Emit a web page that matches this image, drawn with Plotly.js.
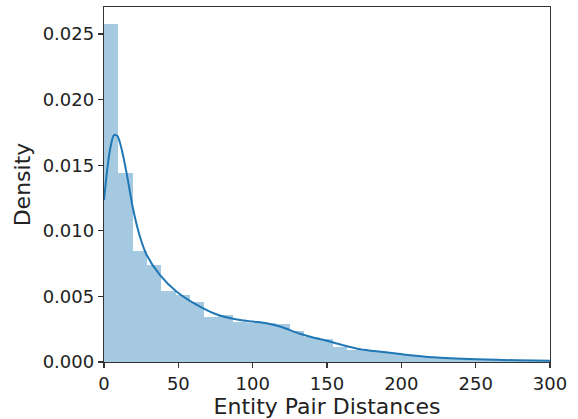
<!DOCTYPE html>
<html>
<head>
<meta charset="utf-8">
<script src="https://cdn.plot.ly/plotly-3.0.1.min.js"></script>
<style>html,body{margin:0;padding:0;background:#fff;}#chart{width:578px;height:419px;}</style>
</head>
<body>
<div id="chart"></div>
<script>
// Histogram bins (left edges) and densities
const binWidth = 9.62;
const binLeft = [0, 9.62, 19.24, 28.86, 38.48, 48.1, 57.72, 67.34, 76.96, 86.58, 96.2, 105.82, 115.44, 125.06, 134.68, 144.3, 153.92, 163.54, 173.16, 182.78, 192.4, 202.02, 211.64, 221.26, 230.88, 240.5, 250.12, 259.74, 269.36, 278.98, 288.6, 298.22];
const density = [0.02576, 0.01441, 0.00848, 0.00739, 0.00541, 0.00511, 0.00457, 0.00345, 0.00358, 0.00307, 0.0030, 0.00295, 0.0029, 0.00234, 0.00188, 0.00172, 0.00117, 0.00093, 0.00084, 0.00075, 0.00062, 0.0005, 0.0004, 0.00032, 0.00026, 0.00022, 0.00019, 0.00016, 0.00013, 0.00012, 0.0001, 0.0001];
// KDE curve
const kdeX = [0, 2, 4, 6.7, 9, 11.9, 15.2, 19.7, 24.2, 28.7, 37.7, 48.9, 64.6, 76.9, 91.5, 100, 109.4, 118.4, 131.8, 140, 149.8, 160, 172.2, 187.9, 201.3, 221.5, 250.7, 277.6, 300];
const kdeY = [0.01235, 0.0145, 0.01616, 0.0173, 0.01723, 0.0162, 0.0144, 0.01159, 0.00955, 0.00816, 0.00663, 0.00536, 0.00422, 0.00358, 0.0032, 0.00308, 0.00295, 0.0027, 0.00215, 0.00188, 0.00162, 0.0013, 0.00097, 0.00076, 0.00058, 0.00036, 0.00021, 0.00013, 0.0001];
const xTicks = [0, 50, 100, 150, 200, 250, 300];
const yTicks = [0, 0.005, 0.010, 0.015, 0.020, 0.025];

const bars = {
  type: 'bar',
  x: binLeft,
  y: density,
  width: binLeft.map(() => binWidth),
  offset: 0,
  marker: {color: 'rgba(31,119,180,0.4)', line: {width: 0}},
  hoverinfo: 'skip'
};
const kde = {
  type: 'scatter', mode: 'lines',
  x: kdeX, y: kdeY,
  line: {color: '#1f77b4', width: 2, shape: 'spline', smoothing: 0.8}
};
const tickFont = {family: 'DejaVu Sans', size: 18, color: '#222'};
const titleFont = {family: 'DejaVu Sans', size: 22, color: '#222'};
const layout = {
  width: 578, height: 419,
  margin: {l: 104, r: 28, t: 7, b: 57},
  paper_bgcolor: '#fff', plot_bgcolor: '#fff',
  showlegend: false,
  bargap: 0,
  font: tickFont,
  xaxis: {
    range: [0, 300], tickvals: xTicks, ticktext: xTicks.map(String),
    ticks: 'outside', ticklen: 5, tickwidth: 1.2, tickcolor: '#333',
    showgrid: false, zeroline: false,
    showline: true, linecolor: '#333', linewidth: 1.2, mirror: true,
    tickfont: tickFont,
    title: {text: 'Entity Pair Distances', font: titleFont, standoff: 1}
  },
  yaxis: {
    range: [0, 0.02706], tickvals: yTicks, ticktext: yTicks.map(v => v.toFixed(3)),
    ticks: 'outside', ticklen: 5, tickwidth: 1.2, tickcolor: '#333',
    showgrid: false, zeroline: false,
    showline: true, linecolor: '#333', linewidth: 1.2, mirror: true,
    tickfont: tickFont,
    title: {text: 'Density', font: titleFont, standoff: 6}
  }
};
Plotly.newPlot('chart', [bars, kde], layout, {displayModeBar: false, staticPlot: true});
</script>
</body>
</html>
